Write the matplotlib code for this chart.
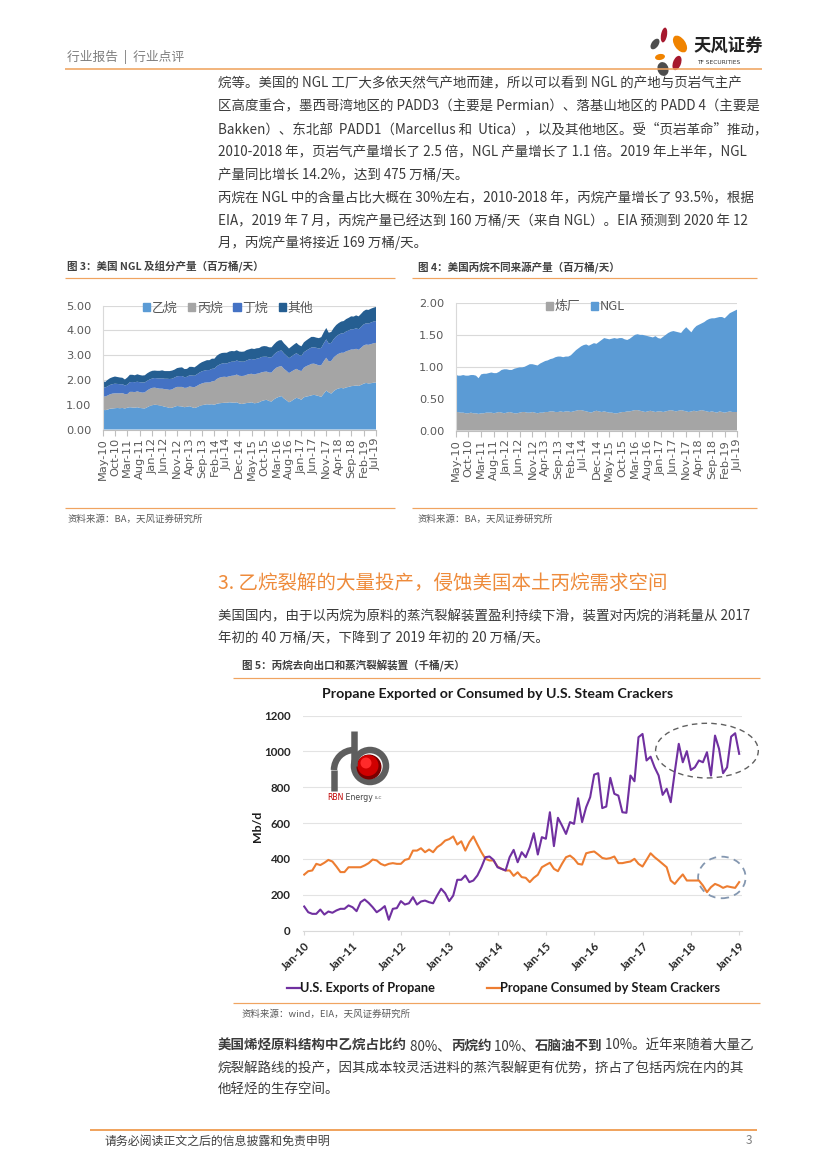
import numpy as np
import matplotlib
matplotlib.use("Agg")
import matplotlib.pyplot as plt
from matplotlib.patches import Ellipse, Circle, Patch, Arc
from matplotlib.lines import Line2D

W, H = 827, 1169
CJK = ['Noto Sans CJK SC', 'DejaVu Sans']
LAT = ['Lato', 'DejaVu Sans']
plt.rcParams['font.family'] = CJK
plt.rcParams['axes.unicode_minus'] = False

# ---------------- data ----------------
# Figure 3 / 4 : monthly May-10 .. Jul-19 (million bbl/d)
ticks34 = ["May-10", "Oct-10", "Mar-11", "Aug-11", "Jan-12", "Jun-12", "Nov-12", "Apr-13",
           "Sep-13", "Feb-14", "Jul-14", "Dec-14", "May-15", "Oct-15", "Mar-16", "Aug-16",
           "Jan-17", "Jun-17", "Nov-17", "Apr-18", "Sep-18", "Feb-19", "Jul-19"]
series3 = ["乙烷", "丙烷", "丁烷", "其他"]
ethane = [0.82, 0.78, 0.80, 0.84, 0.85, 0.86, 0.87, 0.86,
          0.87, 0.85, 0.88, 0.90, 0.89, 0.88, 0.90, 0.87, 0.86, 0.85, 0.90, 0.95,
          0.98, 1.00, 0.99, 0.97, 0.95, 0.92, 0.90, 0.87, 0.88, 0.92, 0.95, 0.94,
          0.93, 0.90, 0.92, 0.94, 0.90, 0.87, 0.90, 0.95, 0.98, 1.00, 1.02, 1.01,
          1.02, 1.00, 1.04, 1.06, 1.07, 1.08, 1.08, 1.10, 1.09, 1.08, 1.10, 1.05,
          1.03, 1.05, 1.07, 1.08, 1.10, 1.06, 1.07, 1.10, 1.15, 1.18, 1.20, 1.15,
          1.13, 1.22, 1.28, 1.32, 1.35, 1.25, 1.18, 1.10, 1.15, 1.22, 1.28, 1.25,
          1.20, 1.30, 1.33, 1.35, 1.38, 1.40, 1.38, 1.35, 1.32, 1.45, 1.57, 1.50,
          1.45, 1.55, 1.62, 1.66, 1.68, 1.66, 1.70, 1.72, 1.75, 1.76, 1.78, 1.76,
          1.80, 1.85, 1.88, 1.86, 1.87, 1.89, 1.90]
propane = [0.52, 0.55, 0.57, 0.58, 0.60, 0.60, 0.59, 0.60,
           0.60, 0.58, 0.55, 0.62, 0.63, 0.63, 0.64, 0.64, 0.63, 0.65, 0.68, 0.69,
           0.70, 0.69, 0.68, 0.68, 0.70, 0.71, 0.72, 0.73, 0.74, 0.76, 0.77, 0.78,
           0.79, 0.78, 0.77, 0.80, 0.82, 0.84, 0.86, 0.87, 0.88, 0.89, 0.88, 0.89,
           0.92, 0.96, 1.00, 1.03, 1.05, 1.05, 1.04, 1.05, 1.08, 1.10, 1.12, 1.12,
           1.13, 1.12, 1.14, 1.16, 1.15, 1.16, 1.18, 1.17, 1.16, 1.15, 1.14, 1.15,
           1.17, 1.20, 1.22, 1.22, 1.21, 1.20, 1.19, 1.18, 1.19, 1.18, 1.17, 1.14,
           1.16, 1.20, 1.23, 1.25, 1.27, 1.26, 1.25, 1.24, 1.28, 1.31, 1.33, 1.25,
           1.32, 1.36, 1.38, 1.40, 1.42, 1.44, 1.46, 1.47, 1.48, 1.47, 1.48, 1.46,
           1.50, 1.54, 1.55, 1.56, 1.58, 1.59, 1.60]
butane = [0.38, 0.36, 0.37, 0.38, 0.38, 0.39, 0.38, 0.37,
          0.36, 0.35, 0.38, 0.39, 0.40, 0.40, 0.39, 0.40, 0.41, 0.40, 0.39, 0.38,
          0.38, 0.39, 0.40, 0.41, 0.42, 0.42, 0.43, 0.44, 0.43, 0.42, 0.43, 0.44,
          0.44, 0.43, 0.44, 0.45, 0.46, 0.46, 0.47, 0.48, 0.49, 0.49, 0.50, 0.50,
          0.51, 0.50, 0.52, 0.53, 0.54, 0.55, 0.55, 0.56, 0.57, 0.56, 0.57, 0.58,
          0.58, 0.57, 0.58, 0.59, 0.60, 0.60, 0.61, 0.61, 0.62, 0.61, 0.60, 0.61,
          0.62, 0.61, 0.62, 0.63, 0.63, 0.62, 0.61, 0.60, 0.61, 0.62, 0.63, 0.62,
          0.61, 0.62, 0.63, 0.65, 0.66, 0.66, 0.67, 0.68, 0.70, 0.72, 0.74, 0.72,
          0.73, 0.74, 0.76, 0.77, 0.78, 0.79, 0.80, 0.81, 0.82, 0.82, 0.83, 0.83,
          0.84, 0.85, 0.86, 0.86, 0.87, 0.88, 0.88]
other = [0.28, 0.22, 0.26, 0.27, 0.28, 0.29, 0.28, 0.27,
         0.26, 0.24, 0.29, 0.30, 0.29, 0.28, 0.30, 0.29, 0.28, 0.29, 0.30, 0.31,
         0.31, 0.30, 0.30, 0.31, 0.32, 0.31, 0.31, 0.32, 0.33, 0.32, 0.33, 0.34,
         0.35, 0.33, 0.32, 0.34, 0.35, 0.34, 0.35, 0.36, 0.37, 0.38, 0.40, 0.40,
         0.41, 0.40, 0.42, 0.43, 0.43, 0.42, 0.43, 0.44, 0.43, 0.42, 0.41, 0.40,
         0.40, 0.41, 0.42, 0.41, 0.42, 0.43, 0.42, 0.41, 0.42, 0.43, 0.42, 0.41,
         0.40, 0.41, 0.42, 0.43, 0.42, 0.41, 0.40, 0.39, 0.40, 0.41, 0.42, 0.40,
         0.39, 0.40, 0.41, 0.42, 0.43, 0.42, 0.41, 0.42, 0.43, 0.45, 0.46, 0.44,
         0.44, 0.45, 0.46, 0.47, 0.48, 0.49, 0.50, 0.51, 0.52, 0.51, 0.52, 0.52,
         0.53, 0.54, 0.55, 0.55, 0.56, 0.56, 0.57]

series4 = ["炼厂", "NGL"]
refinery = [0.29, 0.29, 0.28, 0.28, 0.27, 0.27, 0.28, 0.27,
            0.27, 0.26, 0.27, 0.27, 0.28, 0.28, 0.28, 0.27, 0.28, 0.29, 0.28, 0.27,
            0.28, 0.29, 0.28, 0.27, 0.27, 0.28, 0.29, 0.29, 0.28, 0.28, 0.29, 0.28,
            0.27, 0.28, 0.28, 0.29, 0.29, 0.30, 0.30, 0.29, 0.29, 0.30, 0.29, 0.30,
            0.30, 0.29, 0.30, 0.31, 0.32, 0.32, 0.31, 0.30, 0.29, 0.28, 0.30, 0.31,
            0.30, 0.29, 0.30, 0.29, 0.28, 0.28, 0.27, 0.27, 0.28, 0.29, 0.29, 0.30,
            0.30, 0.31, 0.32, 0.32, 0.31, 0.30, 0.29, 0.30, 0.31, 0.30, 0.29, 0.30,
            0.30, 0.29, 0.30, 0.31, 0.32, 0.31, 0.30, 0.31, 0.32, 0.31, 0.30, 0.29,
            0.30, 0.31, 0.30, 0.31, 0.32, 0.31, 0.30, 0.29, 0.30, 0.29, 0.28, 0.30,
            0.29, 0.28, 0.29, 0.30, 0.29, 0.29, 0.29]
ngl_propane = [0.59, 0.57, 0.58, 0.59, 0.59, 0.59, 0.59, 0.60,
               0.59, 0.56, 0.61, 0.62, 0.61, 0.62, 0.63, 0.63, 0.62, 0.63, 0.67, 0.69,
               0.68, 0.66, 0.67, 0.70, 0.71, 0.71, 0.70, 0.71, 0.74, 0.76, 0.75, 0.75,
               0.75, 0.77, 0.79, 0.80, 0.81, 0.82, 0.83, 0.86, 0.87, 0.86, 0.86, 0.86,
               0.86, 0.89, 0.92, 0.95, 0.97, 1.00, 1.03, 1.05, 1.04, 1.07, 1.07, 1.05,
               1.09, 1.13, 1.15, 1.15, 1.15, 1.16, 1.18, 1.17, 1.17, 1.16, 1.14, 1.12,
               1.14, 1.16, 1.18, 1.19, 1.19, 1.20, 1.20, 1.18, 1.16, 1.16, 1.19, 1.15,
               1.14, 1.18, 1.20, 1.22, 1.23, 1.25, 1.25, 1.23, 1.21, 1.27, 1.32, 1.29,
               1.24, 1.29, 1.34, 1.35, 1.36, 1.39, 1.43, 1.46, 1.46, 1.47, 1.49, 1.48,
               1.49, 1.48, 1.51, 1.54, 1.57, 1.59, 1.61]

# Figure 5 : monthly Jan-10 .. Jan-19 (Mb/d)
ticks5 = ["Jan-10", "Jan-11", "Jan-12", "Jan-13", "Jan-14", "Jan-15",
          "Jan-16", "Jan-17", "Jan-18", "Jan-19"]
series5 = ["U.S. Exports of Propane", "Propane Consumed by Steam Crackers"]
exports = [134, 102, 93, 93, 117, 89, 106, 99, 112, 121, 121, 140,
           130, 108, 158, 173, 154, 130, 102, 117, 136, 60, 121, 125,
           164, 145, 152, 186, 145, 162, 167, 158, 152, 195, 233, 208,
           164, 195, 283, 283, 307, 270, 279, 307, 353, 409, 413, 394,
           353, 344, 335, 409, 450, 381, 437, 409, 465, 543, 424, 521,
           512, 660, 471, 629, 586, 539, 605, 595, 738, 605, 688, 744,
           870, 878, 683, 692, 852, 763, 753, 660, 657, 865, 833, 1079,
           1097, 949, 970, 911, 865, 757, 791, 716, 884, 1042, 939, 1001,
           896, 911, 949, 939, 995, 865, 1088, 1014, 878, 911, 1082, 1101,
           986]
crackers = [312, 331, 335, 372, 365, 378, 394, 385, 357, 326, 326, 353,
            353, 353, 353, 363, 376, 396, 391, 372, 363, 372, 376, 372,
            372, 394, 400, 446, 446, 459, 437, 452, 437, 465, 480, 502,
            510, 525, 480, 498, 446, 493, 525, 480, 437, 400, 391, 391,
            357, 344, 335, 335, 305, 325, 298, 294, 270, 294, 311, 353,
            366, 378, 344, 331, 372, 409, 418, 400, 372, 368, 431, 437,
            441, 424, 405, 400, 404, 413, 376, 376, 381, 385, 400, 372,
            357, 394, 431, 409, 391, 372, 353, 279, 260, 288, 313, 279,
            279, 279, 279, 251, 214, 242, 260, 251, 238, 247, 242, 238,
            270]

# ---------------- colours ----------------
ORANGE = '#F0A460'
HEAD_OR = '#EE8B3B'
TXT = '#3A3A3A'
GREY_T = '#595959'
C_ETH, C_PRO, C_BUT, C_OTH = '#5B9BD5', '#A5A5A5', '#4472C4', '#255E91'
C_EXP, C_CRK = '#7030A0', '#ED7D31'

fig = plt.figure(figsize=(W / 100, H / 100), dpi=100)
fig.patch.set_facecolor('white')


def rect(x0, y0, x1, y1):
    return [x0 / W, 1 - y1 / H, (x1 - x0) / W, (y1 - y0) / H]


ov = fig.add_axes([0, 0, 1, 1], zorder=10)
ov.set_xlim(0, W)
ov.set_ylim(H, 0)
ov.axis('off')
ov.patch.set_alpha(0)


def hline(y, x0, x1, color=ORANGE, lw=1.0):
    ov.plot([x0, x1], [y, y], color=color, lw=lw * 0.72, solid_capstyle='butt')


def txt(x, y, s, size, color=TXT, weight='normal', family=CJK, ha='left', **kw):
    return ov.text(x, y, s, fontsize=size, color=color, fontweight=weight,
                   family=family, ha=ha, va='center', **kw)


renderer = fig.canvas.get_renderer()


def runs(x, y, parts, size, color=TXT, family=CJK):
    for s, w, c in parts:
        t = txt(x, y, s, size, color=c or color, weight=w, family=family)
        x += t.get_window_extent(renderer=renderer).width
    return x


BODY = 9.7

# ---------------- header ----------------
txt(67, 57, "行业报告  |  行业点评", 9.2, color='#7F7F7F')
hline(68.5, 65, 762, lw=1.6)
for (cx, cy, w, h, a, c) in [(664, 35, 6, 15, 10, '#A6192E'), (655, 44, 7, 12, 35, '#4D4D4D'),
                              (680, 44, 11, 19, -35, '#F08300'), (660, 57, 10, 6, -10, '#F08300'),
                              (663, 69, 11, 14, -15, '#4D4D4D'), (677, 63, 8, 15, 20, '#A6192E')]:
    ov.add_patch(Ellipse((cx, cy), w, h, angle=a, color=c, lw=0))
txt(693, 47, "天风证券", 12.5, color='#222222', weight='bold')
txt(697, 62, "TF SECURITIES", 4.2, color='#333333', family=['DejaVu Sans'])

# ---------------- paragraphs ----------------
p1 = ["烷等。美国的 NGL 工厂大多依天然气产地而建，所以可以看到 NGL 的产地与页岩气主产",
      "区高度重合，墨西哥湾地区的 PADD3（主要是 Permian）、落基山地区的 PADD 4（主要是",
      "Bakken）、东北部  PADD1（Marcellus 和  Utica），以及其他地区。受“页岩革命”推动，",
      "2010-2018 年，页岩气产量增长了 2.5 倍，NGL 产量增长了 1.1 倍。2019 年上半年，NGL",
      "产量同比增长 14.2%，达到 475 万桶/天。"]
for i, s in enumerate(p1):
    txt(218, 83 + 23 * i, s, BODY)
p2 = ["丙烷在 NGL 中的含量占比大概在 30%左右，2010-2018 年，丙烷产量增长了 93.5%，根据",
      "EIA，2019 年 7 月，丙烷产量已经达到 160 万桶/天（来自 NGL）。EIA 预测到 2020 年 12",
      "月，丙烷产量将接近 169 万桶/天。"]
for i, s in enumerate(p2):
    txt(218, 198 + 22.5 * i, s, BODY)

# ---------------- figure 3 & 4 titles ----------------
txt(67, 267, "图 3：美国 NGL 及组分产量（百万桶/天）", 7.6, color='#404040', weight='bold')
hline(278, 65, 395, lw=1.2)
txt(418, 267, "图 4：美国丙烷不同来源产量（百万桶/天）", 7.6, color='#404040', weight='bold')
hline(278, 412, 757, lw=1.2)
hline(508, 65, 395, lw=1.2)
hline(508, 412, 757, lw=1.2)
txt(67, 519, "资料来源：BA，天风证券研究所", 6.8, color=GREY_T)
txt(418, 519, "资料来源：BA，天风证券研究所", 6.8, color=GREY_T)


def style_area_axes(ax, ymax, ystep, labels):
    ax.set_xlim(0, 110)
    ax.set_ylim(0, ymax)
    yt = np.arange(0, ymax + 1e-9, ystep)
    ax.set_yticks(yt)
    ax.set_yticklabels(["%.2f" % v for v in yt], family=['DejaVu Sans'], fontsize=8.2, color=GREY_T)
    ax.set_xticks(np.arange(0, 111, 5))
    ax.set_xticklabels(labels, rotation=90, family=['DejaVu Sans'], fontsize=8.2, color=GREY_T)
    ax.grid(axis='y', color='#D9D9D9', lw=0.8)
    ax.set_axisbelow(True)
    for s in ['top', 'right']:
        ax.spines[s].set_visible(False)
    ax.spines['left'].set_color('#D9D9D9')
    ax.spines['bottom'].set_color('#BFBFBF')
    ax.tick_params(axis='y', length=0, pad=8)
    ax.tick_params(axis='x', length=4, color='#BFBFBF', pad=2)
    ax.patch.set_alpha(0)


# Figure 3
ax3 = fig.add_axes(rect(102.5, 305.7, 376, 429.5))
x3 = np.arange(len(ethane))
ax3.stackplot(x3, ethane, propane, butane, other,
              colors=[C_ETH, C_PRO, C_BUT, C_OTH], lw=0)
style_area_axes(ax3, 5, 1, ticks34)
h3 = [Patch(color=c) for c in [C_ETH, C_PRO, C_BUT, C_OTH]]
leg3 = ax3.legend(h3, series3, loc='center', bbox_to_anchor=(0.46, 0.98), ncol=4,
                  frameon=False, fontsize=9.3, handlelength=0.55, handleheight=0.55,
                  handletextpad=0.15, columnspacing=0.8, borderpad=0)
for t in leg3.get_texts():
    t.set_color(GREY_T)

# Figure 4
ax4 = fig.add_axes(rect(455.5, 303, 737.5, 430.5))
x4 = np.arange(len(refinery))
ax4.stackplot(x4, refinery, ngl_propane, colors=[C_PRO, C_ETH], lw=0)
style_area_axes(ax4, 2, 0.5, ticks34)
h4 = [Patch(color=c) for c in [C_PRO, C_ETH]]
leg4 = ax4.legend(h4, series4, loc='center', bbox_to_anchor=(0.46, 0.97), ncol=2,
                  frameon=False, fontsize=9.3, handlelength=0.55, handleheight=0.55,
                  handletextpad=0.15, columnspacing=0.8, borderpad=0)
for t in leg4.get_texts():
    t.set_color(GREY_T)

# ---------------- section 3 ----------------
txt(218, 583, "3. 乙烷裂解的大量投产，侵蚀美国本土丙烷需求空间", 14, color=HEAD_OR)
txt(218, 616, "美国国内，由于以丙烷为原料的蒸汽裂解装置盈利持续下滑，装置对丙烷的消耗量从 2017", BODY)
txt(218, 638, "年初的 40 万桶/天，下降到了 2019 年初的 20 万桶/天。", BODY)
txt(242, 666, "图 5：丙烷去向出口和蒸汽裂解装置（千桶/天）", 7.6, color='#404040', weight='bold')
hline(678, 233, 760, lw=1.2)

# Figure 5
ax5 = fig.add_axes(rect(303, 715.5, 742, 930.5))
x5 = np.arange(len(exports))
ax5.plot(x5, crackers, color=C_CRK, lw=1.5, solid_joinstyle='round')
ax5.plot(x5, exports, color=C_EXP, lw=1.5, solid_joinstyle='round')
ax5.set_xlim(-0.3, 108.7)
ax5.set_ylim(0, 1200)
ax5.set_yticks(np.arange(0, 1201, 200))
ax5.set_yticklabels([str(v) for v in range(0, 1201, 200)], family=LAT, fontweight='bold',
                    fontsize=8.3, color='#262626')
ax5.set_xticks(np.arange(0, 109, 12))
ax5.set_xticklabels(ticks5, rotation=45, ha='right', rotation_mode='anchor', family=LAT,
                    fontweight='bold', fontsize=8.2, color='#262626')
ax5.grid(axis='y', color='#E3E3E3', lw=0.8)
ax5.set_axisbelow(True)
for s in ['top', 'right', 'left']:
    ax5.spines[s].set_visible(False)
ax5.spines['bottom'].set_color('#D9D9D9')
ax5.tick_params(axis='y', length=0, pad=9)
ax5.tick_params(axis='x', length=3, color='#D9D9D9', pad=4)
ax5.patch.set_alpha(0)
ax5.add_patch(Ellipse((100, 1004), 25.5, 305, fill=False, ec='#606060', lw=1.0,
                      ls=(0, (4, 3)), clip_on=False))
ax5.add_patch(Ellipse((103.7, 296), 11.8, 232, fill=False, ec='#8497B0', lw=1.3,
                      ls=(0, (4, 3)), clip_on=False))

txt(498, 694, "Propane Exported or Consumed by U.S. Steam Crackers", 10.2, color='#1A1A1A',
    weight='bold', family=LAT, ha='center')
txt(258, 826, "Mb/d", 8.8, color='#1A1A1A', weight='bold', family=LAT, ha='center', rotation=90)

# legend fig 5
ov.plot([287, 300], [988, 988], color=C_EXP, lw=1.6)
txt(300, 988, series5[0], 9.2, color='#1A1A1A', weight='bold', family=LAT)
ov.plot([487, 500], [988, 988], color=C_CRK, lw=1.6)
txt(500, 988, series5[1], 9.2, color='#1A1A1A', weight='bold', family=LAT)

# RBN logo
PIPE = '#5E5E5E'
ov.plot([354, 354], [731, 766], color=PIPE, lw=6.5 * 0.72, solid_capstyle='butt')
ov.add_patch(Circle((370, 766), 16, fill=False, ec=PIPE, lw=6.5 * 0.72))
ov.add_patch(Arc((354, 770), 40, 40, theta1=180, theta2=270, ec=PIPE, lw=6.5 * 0.72))
ov.plot([334, 334], [770, 791], color=PIPE, lw=6.5 * 0.72, solid_capstyle='butt')
ov.add_patch(Circle((369, 767), 12.5, color='#7A0000', lw=0))
ov.add_patch(Circle((368, 765.5), 10.5, color='#D00000', lw=0))
ov.add_patch(Circle((366, 763), 5.5, color='#FF2A2A', lw=0))
xe = runs(327, 797, [("RBN", 'normal', '#C00000'), (" Energy", 'normal', '#444444')], 5.6,
          family=['DejaVu Sans'])
txt(xe + 1.5, 798, "LLC", 3.0, color='#444444', family=['DejaVu Sans'])

hline(1003, 233, 760, lw=1.2)
txt(242, 1014, "资料来源：wind，EIA，天风证券研究所", 6.8, color=GREY_T)

# ---------------- bottom paragraph ----------------
runs(218, 1046, [("美国烯烃原料结构中乙烷占比约", 'bold', None), (" 80%、", 'normal', None),
                 ("丙烷约", 'bold', None), (" 10%、", 'normal', None),
                 ("石脑油不到", 'bold', None), (" 10%。近年来随着大量乙", 'normal', None)], BODY)
txt(218, 1068, "烷裂解路线的投产，因其成本较灵活进料的蒸汽裂解更有优势，挤占了包括丙烷在内的其", BODY)
txt(218, 1090, "他轻烃的生存空间。", BODY)

# ---------------- footer ----------------
hline(1130, 90, 757, lw=2.0)
txt(105, 1141, "请务必阅读正文之后的信息披露和免责申明", 8.6, color='#404040')
txt(752, 1141, "3", 8.6, color='#7F7F7F', ha='right')

fig.savefig("out.png", dpi=100, facecolor='white')
